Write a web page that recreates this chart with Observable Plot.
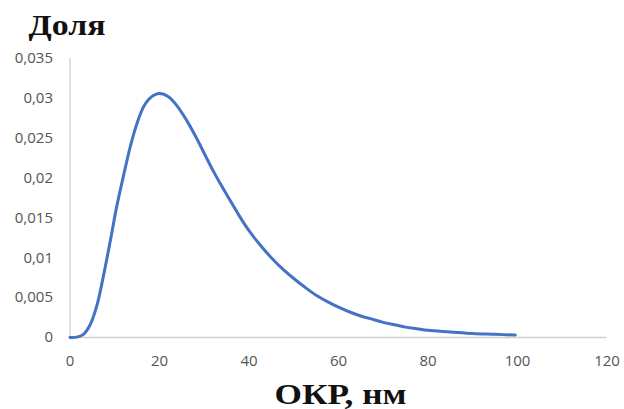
<!DOCTYPE html>
<html>
<head>
<meta charset="utf-8">
<script src="https://cdn.jsdelivr.net/npm/d3@7"></script>
<script src="https://cdn.jsdelivr.net/npm/@observablehq/plot@0.6"></script>
<style>
  html, body { margin: 0; padding: 0; background: #fff; }
  #chart svg { display: block; }
</style>
</head>
<body>
<div id="chart"></div>
<script>
// ОКР, нм (crystallite size) and share ("Доля")
const sizeNm = [0, 1.5, 3, 4.5, 6, 7.5, 9, 10.5, 12, 13.5, 15, 16.5, 18, 20, 22, 24, 26, 28, 30, 32, 34, 36, 38, 40, 42.5, 45, 47.5, 50, 52.5, 55, 57.5, 60, 62.5, 65, 67.5, 70, 72.5, 75, 77.5, 80, 85, 90, 95, 99.5];
const share  = [0, 0.00005, 0.0004, 0.0016, 0.0040, 0.0078, 0.0121, 0.0166, 0.0204, 0.0240, 0.0269, 0.0290, 0.0301, 0.0306, 0.0302, 0.0290, 0.0273, 0.0253, 0.0231, 0.0209, 0.0189, 0.0170, 0.0151, 0.0134, 0.0116, 0.0100, 0.0086, 0.0074, 0.0063, 0.0053, 0.0045, 0.0038, 0.0032, 0.0027, 0.0023, 0.0019, 0.0016, 0.0013, 0.0011, 0.0009, 0.0007, 0.0005, 0.0004, 0.0003];
const xTicks = [0, 20, 40, 60, 80, 100, 120];
const yTicks = [0, 0.005, 0.01, 0.015, 0.02, 0.025, 0.03, 0.035];
const yLabel = "Доля";
const xLabel = "ОКР, нм";

const data = sizeNm.map((x, i) => ({x, y: share[i]}));
const comma = d => String(d).replace(".", ",");

const tickStyle = {fontFamily: "'Open Sans', sans-serif", fontSize: 15, fill: "#555"};
const titleFont = "'Liberation Serif', 'Times New Roman', serif";

const chart = Plot.plot({
  width: 624,
  height: 409,
  marginLeft: 69.5,
  marginRight: 17.5,
  marginTop: 58,
  marginBottom: 72,
  style: {background: "#fff", overflow: "visible"},
  x: {domain: [0, 120]},
  y: {domain: [0, 0.035]},
  marks: [
    Plot.ruleY([0], {stroke: "#d0d0d0", strokeWidth: 1.3}),
    Plot.ruleX([0], {stroke: "#d0d0d0", strokeWidth: 1.3}),
    Plot.axisX({ticks: xTicks, tickSize: 0, tickPadding: 18, tickFormat: comma, label: null, ...tickStyle, textAnchor: "middle"}),
    Plot.axisY({ticks: yTicks, tickSize: 0, tickPadding: 17, tickFormat: comma, label: null, ...tickStyle}),
    Plot.line(data, {x: "x", y: "y", stroke: "#4472c4", strokeWidth: 3, curve: "catmull-rom"}),
    Plot.text([yLabel], {frameAnchor: "top-left", dx: -41.5, dy: -45, text: d => d, textAnchor: "start", lineAnchor: "top",
      fontFamily: titleFont, fontWeight: "bold", fontSize: 30, fill: "#111"}),
    Plot.text([xLabel], {frameAnchor: "bottom", dx: 2, dy: 66, text: d => d, textAnchor: "middle", lineAnchor: "bottom",
      fontFamily: titleFont, fontWeight: "bold", fontSize: 30, fill: "#111"})
  ]
});
// widen the two bold titles to the reference's text widths
const widths = {[yLabel]: 77, [xLabel]: 132};
d3.select(chart).selectAll("text")
  .filter(function() { return widths[this.textContent] !== undefined; })
  .each(function() {
    this.setAttribute("textLength", widths[this.textContent]);
    this.setAttribute("lengthAdjust", "spacingAndGlyphs");
  });
document.getElementById("chart").append(chart);
</script>
</body>
</html>
